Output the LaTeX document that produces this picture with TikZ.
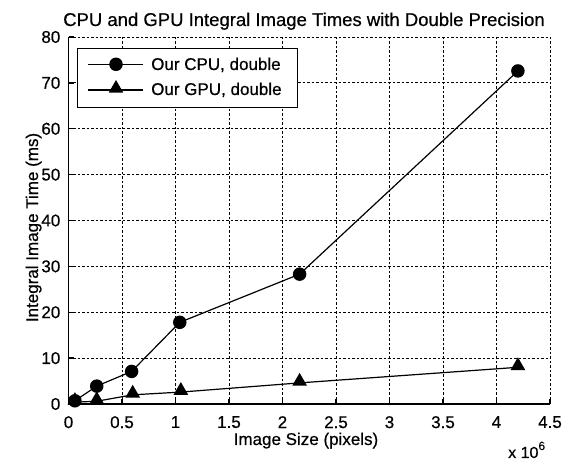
\documentclass[tikz,border=0pt]{standalone}
\usepackage{fontspec}
\setmainfont{Liberation Sans}[FakeBold=0.5]
\usetikzlibrary{shapes.geometric}
\begin{document}
\begin{tikzpicture}[x=1pt,y=1pt,
  gridline/.style={line width=0.9pt, dash pattern=on 2.5pt off 2pt},
  axisline/.style={line width=1.3pt},
  series/.style={line width=1.2pt},
  cpumark/.style={circle, fill=black, inner sep=0pt, minimum size=13.5pt},
  gpumark/.style={regular polygon, regular polygon sides=3, fill=black, inner sep=0pt, minimum size=17pt},
  lbl/.style={font=\fontsize{17}{20}\selectfont, inner sep=0pt},
  titlelbl/.style={font=\fontsize{18.5}{22}\selectfont, inner sep=0pt},
  legendbox/.style={draw, fill=white, line width=1.1pt, inner sep=0pt, minimum width=220pt, minimum height=59pt}
]
\useasboundingbox (0,0) rectangle (563,461);
\fill[white] (0,0) rectangle (563,461);

% plot area in data units: x in millions of pixels, y in ms
\begin{scope}[shift={(68.5,57)}, x=107pt, y=4.5875pt]
  % dashed grid, the last lines close the frame on top and right
  \foreach \gx in {0.5,1,1.5,2,2.5,3,3.5,4,4.5}
    \draw[gridline] (\gx,0) -- (\gx,80);
  \foreach \gy in {10,20,30,40,50,60,70,80}
    \draw[gridline] (0,\gy) -- (4.5,\gy);
  % solid axes with inner ticks
  \draw[axisline] (0,80) -- (0,0) -- (4.5,0);
  \foreach \gx in {0.5,1,1.5,2,2.5,3,3.5,4,4.5}
    \draw[axisline] (\gx,0) -- ++(0,5pt);
  \foreach \gy in {10,20,30,40,50,60,70,80}
    \draw[axisline] (0,\gy) -- ++(5pt,0);
  % tick labels
  \foreach \gx/\t/\n in {0/0/a,0.5/0.5/b,1/1/c,1.5/1.5/d,2/2/e,2.5/2.5/f,3/3/g,3.5/3.5/h,4/4/i,4.5/4.5/j}
    \node[lbl, anchor=north, yshift=-12pt] (xt\n) at (\gx,0) {\t};
  \foreach \gy in {0,10,20,30,40,50,60,70,80}
    \node[lbl, anchor=east, xshift=-8pt] (yt\gy) at (0,\gy) {\gy};

  % measured points
  \coordinate (c1) at (0.06,0.7);
  \coordinate (c2) at (0.264,3.9);
  \coordinate (c3) at (0.59,7.1);
  \coordinate (c4) at (1.04,17.8);
  \coordinate (c5) at (2.16,28.3);
  \coordinate (c6) at (4.2,72.6);
  \coordinate (g1) at (0.06,0.4);
  \coordinate (g2) at (0.264,0.6);
  \coordinate (g3) at (0.6,2.0);
  \coordinate (g4) at (1.05,2.6);
  \coordinate (g5) at (2.16,4.6);
  \coordinate (g6) at (4.2,8.0);

  \draw[series] (g1) -- (g2) -- (g3) -- (g4) -- (g5) -- (g6);
  \draw[series] (c1) -- (c2) -- (c3) -- (c4) -- (c5) -- (c6);
  \foreach \i in {1,...,6} {
    \node[gpumark, yshift=1.5pt] (gm\i) at (g\i) {};
    \node[cpumark] (cm\i) at (c\i) {};
  }
\end{scope}

% legend
\node[legendbox, anchor=north west] (legend) at (77,413) {};
\coordinate (la1) at (88,396.7);
\coordinate (lb1) at (143,396.7);
\coordinate (la2) at (88,371);
\coordinate (lb2) at (143,371);
\draw[series] (la1) -- (lb1);
\draw[series] (la2) -- (lb2);
\node[cpumark] (lcm) at (116,396.7) {};
\node[gpumark] (lgm) at (116,372.5) {};
\node[lbl, anchor=base west] (lcpu) at (151,391) {Our CPU, double};
\node[lbl, anchor=base west] (lgpu) at (151,366) {Our GPU, double};

% labels
\node[titlelbl, anchor=base] (title) at (304,435) {CPU and GPU Integral Image Times with Double Precision};
\node[lbl, anchor=base] (xlabel) at (306,16) {Image Size (pixels)};
\node[lbl, anchor=base, rotate=90] (ylabel) at (38,233.5) {Integral Image Time (ms)};
\node[lbl, anchor=base west, font=\fontsize{16}{19}\selectfont] (xexp) at (508,3) {x 10\raisebox{8pt}{\fontsize{12}{14}\selectfont 6}};
\end{tikzpicture}
\end{document}
